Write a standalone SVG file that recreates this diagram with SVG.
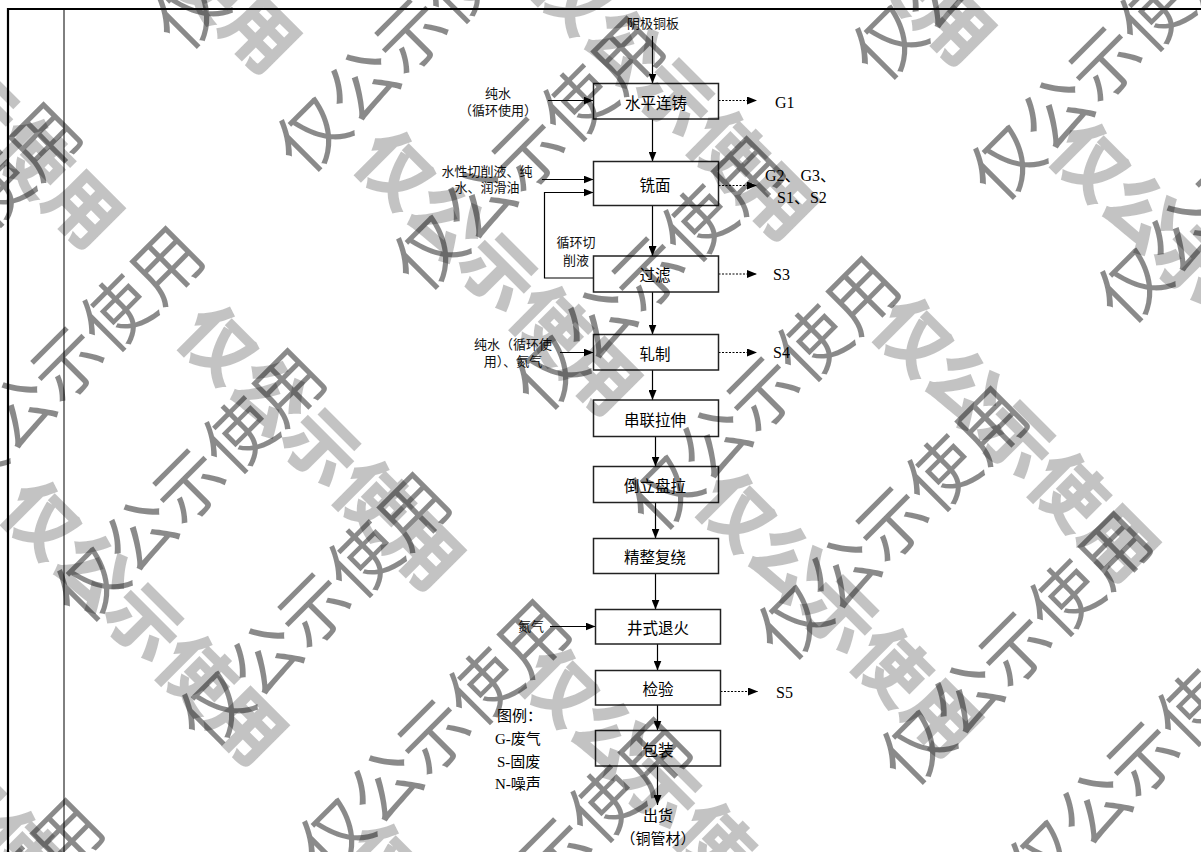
<svg xmlns="http://www.w3.org/2000/svg" width="1201" height="852" viewBox="0 0 1201 852">
<defs>
<marker id="ah" viewBox="0 0 10 8" refX="10" refY="4" markerWidth="10" markerHeight="8" markerUnits="userSpaceOnUse" orient="auto"><path d="M0,0 L10,4 L0,8 Z" fill="#000"/></marker>
<text id="wm" x="0" y="0">仅公示使用</text>
</defs>
<style>
.box{fill:#fff;stroke:#222;stroke-width:1.5}
.bt{font-family:"Noto Sans CJK SC","Noto Sans",sans-serif;font-size:15.5px;text-anchor:middle;dominant-baseline:central;fill:#000}
.lb{font-family:"Liberation Serif","Noto Sans CJK SC",serif;font-size:13px;fill:#111;text-anchor:middle}
.lt{font-family:"Liberation Serif","Noto Sans CJK SC",serif;font-size:16px;fill:#000}
.lg{font-family:"Liberation Serif","Noto Sans CJK SC",serif;font-size:15px;fill:#000}
.ln{stroke:#000;stroke-width:1.2;fill:none}
.dt{stroke:#000;stroke-width:1;stroke-dasharray:2 1.5;fill:none}
.frame{stroke:#000;fill:none}
.wt{font-family:"Noto Sans CJK SC",sans-serif;font-size:70px;text-anchor:middle;dominant-baseline:central;fill:#000;fill-opacity:0.46}
.wb{font-family:"Noto Sans CJK SC",sans-serif;font-weight:900;font-size:73px;text-anchor:middle;dominant-baseline:central;fill:#000;fill-opacity:0.235}
</style>
<rect width="1201" height="852" fill="#fff"/>
<g id="frame">
<path class="frame" d="M7,9 H1201" stroke-width="2.2"/>
<path class="frame" d="M8,8 V852" stroke-width="2.2"/>
<path class="frame" d="M64,9 V852" stroke-width="1"/>
</g>
<g id="connectors">
<path class="ln" d="M652.5,36 V83.5" marker-end="url(#ah)"/>
<path class="ln" d="M548,100.5 H593.5" marker-end="url(#ah)"/>
<path class="dt" d="M718.5,100.5 H757" marker-end="url(#ah)"/>
<path class="ln" d="M652.5,119 V161.5" marker-end="url(#ah)"/>
<path class="ln" d="M542,179.5 H593.5" marker-end="url(#ah)"/>
<path class="ln" d="M593.5,278 H544.5 V192.5 H593.5" marker-end="url(#ah)"/>
<path class="dt" d="M718.5,185.5 H757" marker-end="url(#ah)"/>
<path class="ln" d="M652.5,205.5 V256" marker-end="url(#ah)"/>
<path class="dt" d="M718.5,274 H757" marker-end="url(#ah)"/>
<path class="ln" d="M652.5,292 V334.5" marker-end="url(#ah)"/>
<path class="ln" d="M560,352.5 H593.5" marker-end="url(#ah)"/>
<path class="dt" d="M718.5,352.5 H757" marker-end="url(#ah)"/>
<path class="ln" d="M652.5,370 V400" marker-end="url(#ah)"/>
<path class="ln" d="M655.5,436.5 V466.5" marker-end="url(#ah)"/>
<path class="ln" d="M655.5,502.5 V538.5" marker-end="url(#ah)"/>
<path class="ln" d="M655.5,573.5 V609.5" marker-end="url(#ah)"/>
<path class="ln" d="M550,626.5 H595.5" marker-end="url(#ah)"/>
<path class="ln" d="M657.5,644 V670.5" marker-end="url(#ah)"/>
<path class="dt" d="M720.5,691.5 H758" marker-end="url(#ah)"/>
<path class="ln" d="M657.5,705 V730.5" marker-end="url(#ah)"/>
<path class="ln" d="M657.5,766 V805" marker-end="url(#ah)"/>
</g>
<g id="n-input-copper"><text class="lb" x="653" y="28">阴极铜板</text></g>
<g id="n-water1"><text class="lb" x="498" y="98">纯水</text><text class="lb" x="498" y="115">（循环使用）</text></g>
<g id="n-cutfluid"><text class="lb" x="487" y="176">水性切削液、纯</text><text class="lb" x="487" y="192">水、润滑油</text></g>
<g id="n-recycle"><text class="lb" x="576" y="247">循环切</text><text class="lb" x="576" y="265">削液</text></g>
<g id="n-water2"><text class="lb" x="513" y="349">纯水（循环使</text><text class="lb" x="513" y="366">用）、氮气</text></g>
<g id="n-n2"><text class="lb" x="531" y="631">氮气</text></g>
<g id="n-cast"><rect class="box" x="593.5" y="83.5" width="125" height="35.5"/><text class="bt" x="656" y="101.5">水平连铸</text></g>
<g id="n-mill"><rect class="box" x="593.5" y="161.5" width="125" height="44"/><text class="bt" x="655" y="184">铣面</text></g>
<g id="n-filter"><rect class="box" x="593.5" y="256" width="125" height="36"/><text class="bt" x="655" y="274">过滤</text></g>
<g id="n-roll"><rect class="box" x="593.5" y="334.5" width="125" height="35.5"/><text class="bt" x="655" y="352.5">轧制</text></g>
<g id="n-draw"><rect class="box" x="593.5" y="400" width="125" height="36.5"/><text class="bt" x="655" y="418.5">串联拉伸</text></g>
<g id="n-coil"><rect class="box" x="593.5" y="466.5" width="125" height="36"/><text class="bt" x="655" y="484.5">倒立盘拉</text></g>
<g id="n-rewind"><rect class="box" x="593.5" y="538.5" width="125" height="35"/><text class="bt" x="655" y="556">精整复绕</text></g>
<g id="n-anneal"><rect class="box" x="595.5" y="609.5" width="125" height="34.5"/><text class="bt" x="658" y="627">井式退火</text></g>
<g id="n-inspect"><rect class="box" x="595.5" y="670.5" width="125" height="34.5"/><text class="bt" x="658" y="688">检验</text></g>
<g id="n-pack"><rect class="box" x="595.5" y="730.5" width="125" height="35.5"/><text class="bt" x="658" y="748.5">包装</text></g>
<g id="n-ship"><text class="lg" x="658" y="821" text-anchor="middle">出货</text><text class="lg" x="658" y="844" text-anchor="middle">（铜管材）</text></g>
<g id="n-g1"><text class="lt" x="775" y="108">G1</text></g>
<g id="n-g2"><text class="lt" x="765" y="181">G2、G3、</text><text class="lt" x="777" y="203">S1、S2</text></g>
<g id="n-s3"><text class="lt" x="773" y="280">S3</text></g>
<g id="n-s4"><text class="lt" x="773" y="358">S4</text></g>
<g id="n-s5"><text class="lt" x="776" y="698">S5</text></g>
<g id="legend">
<text class="lg" x="497" y="721">图例：</text>
<text class="lg" x="495" y="744">G-废气</text>
<text class="lg" x="497" y="767">S-固废</text>
<text class="lg" x="495" y="789">N-噪声</text>
</g>
<g id="watermark-bold" class="wb">
<text transform="translate(856,-81) rotate(45)">仅公示使用</text>
<text transform="translate(679,94) rotate(45)">仅公示使用</text>
<text transform="translate(502,269) rotate(45)">仅公示使用</text>
<text transform="translate(325,444) rotate(45)">仅公示使用</text>
<text transform="translate(148,619) rotate(45)">仅公示使用</text>
<text transform="translate(-29,794) rotate(45)">仅公示使用</text>
<text transform="translate(1197,261) rotate(45)">仅公示使用</text>
<text transform="translate(1020,436) rotate(45)">仅公示使用</text>
<text transform="translate(843,611) rotate(45)">仅公示使用</text>
<text transform="translate(666,786) rotate(45)">仅公示使用</text>
<text transform="translate(489,961) rotate(45)">仅公示使用</text>
<text transform="translate(161,-73) rotate(45)">仅公示使用</text>
<text transform="translate(-16,102) rotate(45)">仅公示使用</text>
</g>
<g id="watermark-thin" class="wt">
<text transform="translate(-58,236) rotate(-45)">仅公示使用</text>
<text transform="translate(64,360) rotate(-45)">仅公示使用</text>
<text transform="translate(186,482) rotate(-45)">仅公示使用</text>
<text transform="translate(311,606) rotate(-45)">仅公示使用</text>
<text transform="translate(431,733) rotate(-45)">仅公示使用</text>
<text transform="translate(552,851) rotate(-45)">仅公示使用</text>
<text transform="translate(-36,932) rotate(-45)">仅公示使用</text>
<text transform="translate(286,-91) rotate(-45)">仅公示使用</text>
<text transform="translate(408,32) rotate(-45)">仅公示使用</text>
<text transform="translate(525,150) rotate(-45)">仅公示使用</text>
<text transform="translate(645,270) rotate(-45)">仅公示使用</text>
<text transform="translate(760,390) rotate(-45)">仅公示使用</text>
<text transform="translate(889,520) rotate(-45)">仅公示使用</text>
<text transform="translate(1012,645) rotate(-45)">仅公示使用</text>
<text transform="translate(1140,755) rotate(-45)">仅公示使用</text>
<text transform="translate(984,-60) rotate(-45)">仅公示使用</text>
<text transform="translate(1102,60) rotate(-45)">仅公示使用</text>
<text transform="translate(1229,183) rotate(-45)">仅公示使用</text>
</g>
</svg>
